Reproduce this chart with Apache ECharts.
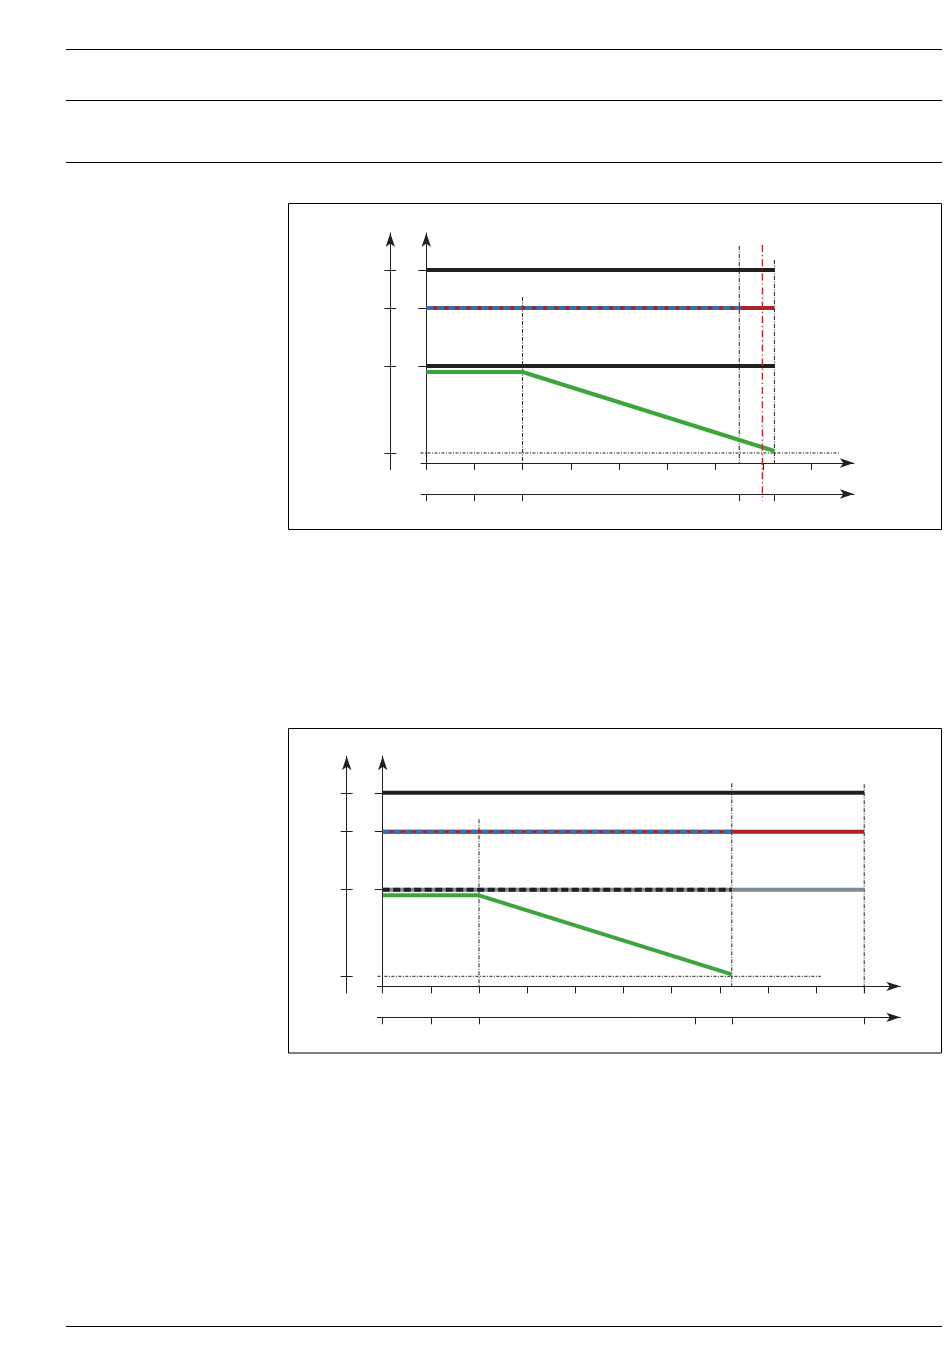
<!DOCTYPE html>
<html>
<head>
<meta charset="utf-8">
<script src="https://cdn.jsdelivr.net/npm/echarts@6/dist/echarts.min.js"></script>
<style>
  html, body { margin: 0; padding: 0; background: #ffffff; }
  #chart { width: 950px; height: 1369px; }
</style>
</head>
<body>
<div id="chart"></div>
<script>
// ---- Upper diagram --------------------------------------------------------
const stepsA = [0, 1, 2, 3, 4, 5, 6, 7, 8];
const phaseTicksA = [0, 1, 2, 6.5, 7.23];
const upperLimitA = [[0, 19.3], [7.23, 19.3]];
const supplyA = [[0, 15.5], [7.23, 15.5]];
const supplyMixedA = [[0, 15.5], [6.5, 15.5]];
const lowerLimitA = [[0, 9.7], [7.23, 9.7]];
const chargeA = [[0, 9.1], [2, 9.1], [7.23, 1.2]];
const thresholdA = [[-0.12, 1.0], [8.6, 1.0]];
const markersA = [
  [[2, 16.6], [2, 0]],
  [[6.5, 21.7], [6.5, 0]],
  [[7.23, 20.3], [7.23, 0]]
];
const cutoffA = [[6.98, 21.8], [6.98, -3.8]];

// ---- Lower diagram --------------------------------------------------------
const stepsB = [0, 1, 2, 3, 4, 5, 6, 7, 8, 9, 10];
const phaseTicksB = [0, 1, 2, 6.5, 7.25, 10];
const upperLimitB = [[0, 19.35], [10, 19.35]];
const supplyB = [[0, 15.45], [10, 15.45]];
const supplyMixedB = [[0, 15.45], [7.25, 15.45]];
const lowerLimitB = [[0, 9.65], [10, 9.65]];
const lowerMixedB = [[0, 9.65], [7.25, 9.65]];
const chargeB = [[0, 9.1], [2, 9.1], [7.25, 1.2]];
const thresholdB = [[-0.11, 1.0], [9.1, 1.0]];
const markersB = [
  [[2, 16.7], [2, 0]],
  [[7.25, 20.3], [7.25, 0]],
  [[10, 20.2], [10, -0.7]]
];

// ---- Shared level scale ---------------------------------------------------
const levelTicks = [9.7, 15.5, 19.3];
const levelTicksOuter = [1.0, 9.7, 15.5, 19.3];

// ---- Styling / layout -----------------------------------------------------
const INK = '#231f20';
const RED = '#ab2429';
const CUT_RED = '#c8262c';
const BLUE = '#2c74b4';
const GREEN = '#3da63a';
const GREY = '#7c8b94';
const UX = 48.15;      // px per step
const UY = 10;         // px per level unit
const X_MIN = -0.11;
const Y_TOP = 23.0;
const Y_OUT = -0.67;
const ARROW = [7, 14];

const grids = [], xAxes = [], yAxes = [], series = [];

function lineOf(data, xi, yi, style, z) {
  series.push({
    type: 'line', data: data, xAxisIndex: xi, yAxisIndex: yi,
    showSymbol: false, symbol: 'none', clip: false, silent: true,
    animation: false, z: z || 2,
    lineStyle: Object.assign({ cap: 'butt', join: 'miter' }, style)
  });
}

function diagram(d) {
  // main plotting area
  const g = grids.length;
  grids.push({
    left: d.ox + X_MIN * UX, top: d.oy - Y_TOP * UY,
    width: (d.xMax - X_MIN) * UX, height: Y_TOP * UY,
    containLabel: false, outerBoundsMode: 'none', show: false
  });
  const xi = xAxes.length;
  xAxes.push({
    type: 'value', gridIndex: g, min: X_MIN, max: d.xMax, position: 'bottom',
    axisLine: { show: true, onZero: true, symbol: ['none', 'arrow'], symbolSize: ARROW,
      lineStyle: { color: INK, width: 1 } },
    axisTick: { show: true, customValues: d.steps, length: 7, lineStyle: { color: INK, width: 1 } },
    axisLabel: { show: false }, splitLine: { show: false }
  });
  xAxes.push({
    type: 'value', gridIndex: g, min: X_MIN, max: d.xMax, position: 'bottom', offset: 31,
    axisLine: { show: true, onZero: false, symbol: ['none', 'arrow'], symbolSize: ARROW,
      lineStyle: { color: INK, width: 1 } },
    axisTick: { show: true, customValues: d.phaseTicks, length: 7, lineStyle: { color: INK, width: 1 } },
    axisLabel: { show: false }, splitLine: { show: false }
  });
  const yi = yAxes.length;
  yAxes.push({
    type: 'value', gridIndex: g, min: 0, max: Y_TOP, position: 'left',
    axisLine: { show: true, onZero: true, symbol: ['none', 'arrow'], symbolSize: ARROW,
      lineStyle: { color: INK, width: 1 } },
    axisTick: { show: true, customValues: levelTicks, length: 8, lineStyle: { color: INK, width: 1 } },
    axisLabel: { show: false }, splitLine: { show: false }
  });

  // outer level scale with crossing ticks
  const g2 = grids.length;
  grids.push({
    left: d.ox - 36, top: d.oy - Y_TOP * UY, width: 20, height: (Y_TOP - Y_OUT) * UY,
    containLabel: false, outerBoundsMode: 'none', show: false
  });
  xAxes.push({ type: 'value', gridIndex: g2, min: 0, max: 1, show: false });
  yAxes.push({
    type: 'value', gridIndex: g2, min: Y_OUT, max: Y_TOP, position: 'left',
    axisLine: { show: true, onZero: false, symbol: ['none', 'arrow'], symbolSize: ARROW,
      lineStyle: { color: INK, width: 1 } },
    axisTick: { show: true, inside: false, customValues: levelTicksOuter, length: 6,
      lineStyle: { color: INK, width: 1 } },
    axisLabel: { show: false }, splitLine: { show: false }
  });
  yAxes.push({
    type: 'value', gridIndex: g2, min: Y_OUT, max: Y_TOP, position: 'left',
    axisLine: { show: false, onZero: false },
    axisTick: { show: true, inside: true, customValues: levelTicksOuter, length: 6,
      lineStyle: { color: INK, width: 1 } },
    axisLabel: { show: false }, splitLine: { show: false }
  });

  // reference lines
  const dashDot = [4, 1.5, 1, 1.5];
  lineOf(d.threshold, xi, yi, { color: INK, width: 1, type: [3, 1.5, 1, 1.5] }, 1);
  d.markers.forEach(m => lineOf(m, xi, yi, { color: INK, width: 1, type: dashDot }, 1));
  if (d.cutoff) lineOf(d.cutoff, xi, yi, { color: CUT_RED, width: 1.4, type: [7, 3, 1.2, 3] }, 6);

  // levels and charge curve
  lineOf(d.upper, xi, yi, { color: INK, width: 4 }, 3);
  lineOf(d.supply, xi, yi, { color: RED, width: 4 }, 3);
  lineOf(d.supplyMixed, xi, yi, { color: BLUE, width: 4, type: [7, 4] }, 4);
  if (d.lowerSolid) {
    lineOf(d.lower, xi, yi, { color: INK, width: 4 }, 3);
  } else {
    lineOf(d.lower, xi, yi, { color: GREY, width: 4 }, 3);
    lineOf(d.lowerMixed, xi, yi, { color: INK, width: 4, type: [7, 3.5] }, 4);
  }
  lineOf(d.charge, xi, yi, { color: GREEN, width: 4, join: 'round' }, 5);
}

diagram({
  ox: 426.3, oy: 463, xMax: 8.88,
  steps: stepsA, phaseTicks: phaseTicksA,
  upper: upperLimitA, supply: supplyA, supplyMixed: supplyMixedA,
  lower: lowerLimitA, lowerSolid: true,
  charge: chargeA, threshold: thresholdA, markers: markersA, cutoff: cutoffA
});

diagram({
  ox: 382.7, oy: 986.3, xMax: 10.75,
  steps: stepsB, phaseTicks: phaseTicksB,
  upper: upperLimitB, supply: supplyB, supplyMixed: supplyMixedB,
  lower: lowerLimitB, lowerMixed: lowerMixedB, lowerSolid: false,
  charge: chargeB, threshold: thresholdB, markers: markersB
});

// page rules and diagram frames
function rule(y) {
  return { type: 'line', shape: { x1: 66, y1: y, x2: 942, y2: y },
    style: { stroke: '#000', lineWidth: 1 }, silent: true };
}
function frame(y, h) {
  return { type: 'rect', shape: { x: 288.5, y: y, width: 653, height: h },
    style: { stroke: '#000', lineWidth: 1, fill: 'none' }, silent: true };
}

const chart = echarts.init(document.getElementById('chart'), null, { renderer: 'canvas' });
chart.setOption({
  animation: false,
  backgroundColor: '#ffffff',
  grid: grids,
  xAxis: xAxes,
  yAxis: yAxes,
  series: series,
  graphic: [
    rule(49.5), rule(100.5), rule(162.5), rule(1326.5),
    frame(203.5, 326), frame(728.5, 324.5)
  ]
});
</script>
</body>
</html>
